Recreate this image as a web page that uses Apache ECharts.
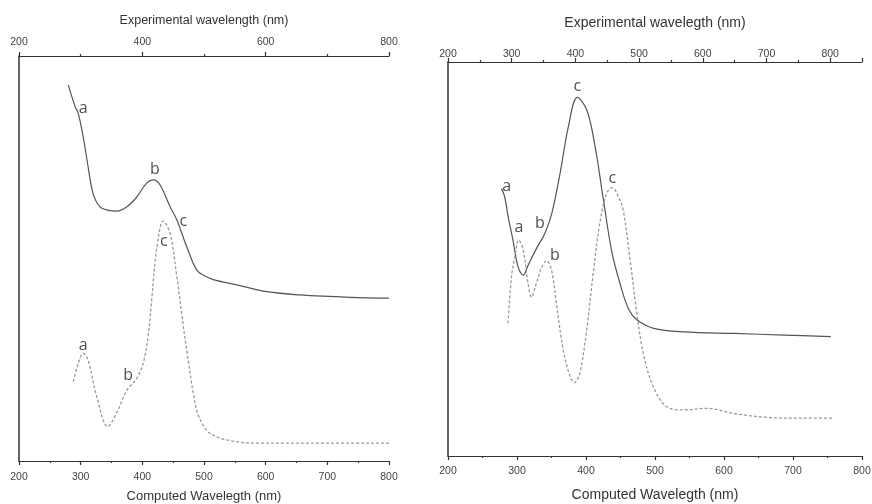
<!DOCTYPE html>
<html>
<head>
<meta charset="utf-8">
<script src="https://cdn.jsdelivr.net/npm/echarts@6/dist/echarts.min.js"></script>
<style>
html,body{margin:0;padding:0;background:#fff;}
#chart{width:872px;height:504px;}
</style>
</head>
<body>
<div id="chart"></div>
<script>
// ---- Left panel data ----
const leftExpNm   = [280, 291, 296, 304, 312, 320, 331, 345, 358, 375, 390, 407, 418, 429, 445, 456, 472, 488, 500, 515, 553, 602, 656, 737, 800];
const leftExpAbs  = [92.8, 87.5, 85.9, 80.1, 72.7, 66.1, 62.8, 61.9, 61.7, 62.8, 65.0, 68.6, 69.4, 68.1, 62.8, 59.5, 52.9, 47.2, 45.8, 44.8, 43.5, 41.8, 41.0, 40.4, 40.2];
const leftCompNm  = [288, 296, 304, 312, 326, 344, 358, 375, 391, 402, 410, 415, 423, 434, 445, 456, 465, 472, 488, 500, 510, 537, 585, 650, 800];
const leftCompAbs = [19.6, 24.1, 26.6, 24.9, 15.9, 8.5, 11.8, 17.5, 20.4, 24.5, 31.5, 39.5, 52.1, 59.3, 56.2, 45.5, 35.0, 27.4, 12.6, 8.5, 6.8, 5.2, 4.4, 4.4, 4.4];
const leftExpLabels  = [['a', 304, 87.1], ['b', 420.5, 71.9], ['c', 466.4, 59.1]];
const leftCompLabels = [['a', 304, 28.6], ['b', 377, 21.2], ['c', 435, 54.1]];

// ---- Right panel data ----
const rightExpNm   = [284, 289, 294.5, 302, 310, 318, 326, 339, 352, 363, 376, 389, 403, 418, 431, 444, 457, 470, 484, 497, 523, 570, 649, 728, 801];
const rightExpAbs  = [67.9, 65.8, 60.7, 54.8, 48.0, 45.9, 48.5, 52.7, 56.5, 61.6, 71.8, 83.6, 91.0, 87.8, 78.5, 65.0, 52.0, 43.8, 37.1, 34.5, 32.4, 31.5, 31.1, 30.7, 30.3];
const rightCompNm  = [287, 292, 297, 302.6, 309, 316, 321, 328, 336, 343, 350, 357, 367, 377, 383, 391, 401, 410.5, 420, 430, 438, 449, 454, 464, 473, 483, 497.5, 517, 541, 575, 614, 662, 710, 759];
const rightCompAbs = [33.7, 45.5, 50.6, 54.8, 52.3, 43.8, 40.3, 43.8, 48.0, 49.6, 47.2, 38.8, 26.9, 20.1, 18.6, 21.0, 32.0, 46.4, 59.1, 66.7, 68.1, 65.0, 62.4, 49.7, 37.1, 26.1, 17.6, 12.5, 11.7, 12.1, 10.8, 9.8, 9.6, 9.6];
const rightExpLabels  = [['a', 292, 68.4], ['b', 344.4, 59.1], ['c', 403, 93.7]];
const rightCompLabels = [['a', 303, 58.0], ['b', 355, 51.0], ['c', 438, 70.5]];

// ---- Axis texts ----
const leftTopTitle = 'Experimental wavelength (nm)';
const rightTopTitle = 'Experimental wavelegth (nm)';
const bottomTitle = 'Computed Wavelegth (nm)';

const zip = (xs, ys) => xs.map((x, i) => [x, ys[i]]);

function xAxis(grid, pos, min, max, interval, name, nameGap, nameSize, labelMargin, showMax) {
  return {
    type: 'value', gridIndex: grid, position: pos, min: min, max: max, interval: interval,
    name: name, nameLocation: 'middle', nameGap: nameGap,
    nameTextStyle: {fontFamily: 'Liberation Sans', fontSize: nameSize, color: '#333'},
    axisLine: {show: true, onZero: false, lineStyle: {color: '#333', width: 1.2}},
    axisTick: {show: true, length: 4, lineStyle: {color: '#333', width: 1.2}},
    minorTick: {show: true, splitNumber: 2, length: 2, lineStyle: {color: '#333', width: 1.2}},
    axisLabel: {show: true, margin: labelMargin, fontFamily: 'Liberation Sans', fontSize: 10.5, color: '#444', showMaxLabel: showMax},
    splitLine: {show: false}, minorSplitLine: {show: false}
  };
}
function yAxis(grid) {
  return {
    type: 'value', gridIndex: grid, min: 0, max: 100,
    axisLine: {show: true, onZero: false, lineStyle: {color: '#333', width: 1.5}},
    axisTick: {show: false}, axisLabel: {show: false}, splitLine: {show: false}
  };
}
function line(xi, yi, data, dashed) {
  return {
    type: 'line', xAxisIndex: xi, yAxisIndex: yi, data: data, smooth: 0.35,
    showSymbol: false, symbol: 'none', silent: true,
    lineStyle: dashed ? {color: '#999', width: 1.3, type: [3, 2]} : {color: '#555', width: 1.2}
  };
}
function labels(xi, yi, arr) {
  return {
    type: 'scatter', xAxisIndex: xi, yAxisIndex: yi, symbolSize: 0, silent: true,
    data: arr.map(a => [a[1], a[2], a[0]]),
    label: {show: true, position: 'inside', formatter: p => p.value[2],
      fontFamily: 'Open Sans', fontSize: 16, color: '#222'}
  };
}

const chart = echarts.init(document.getElementById('chart'), null, {renderer: 'canvas'});
chart.setOption({
  animation: false,
  backgroundColor: '#fff',
  grid: [
    {left: 19, top: 56, width: 370, height: 405, containLabel: false, outerBoundsMode: 'none'},
    {left: 448, top: 62, width: 414, height: 394, containLabel: false, outerBoundsMode: 'none'}
  ],
  xAxis: [
    xAxis(0, 'bottom', 200, 800, 100, bottomTitle, 29, 13, 11, true),
    xAxis(0, 'top', 200, 800, 200, leftTopTitle, 29, 12.5, 8, true),
    xAxis(1, 'bottom', 200, 800, 100, bottomTitle, 32, 14, 10, true),
    xAxis(1, 'top', 200, 850, 100, rightTopTitle, 32, 14, 2, false)
  ],
  yAxis: [yAxis(0), yAxis(1)],
  series: [
    line(1, 0, zip(leftExpNm, leftExpAbs), false),
    line(0, 0, zip(leftCompNm, leftCompAbs), true),
    line(3, 1, zip(rightExpNm, rightExpAbs), false),
    line(2, 1, zip(rightCompNm, rightCompAbs), true),
    labels(1, 0, leftExpLabels),
    labels(0, 0, leftCompLabels),
    labels(3, 1, rightExpLabels),
    labels(2, 1, rightCompLabels)
  ]
});
</script>
</body>
</html>
